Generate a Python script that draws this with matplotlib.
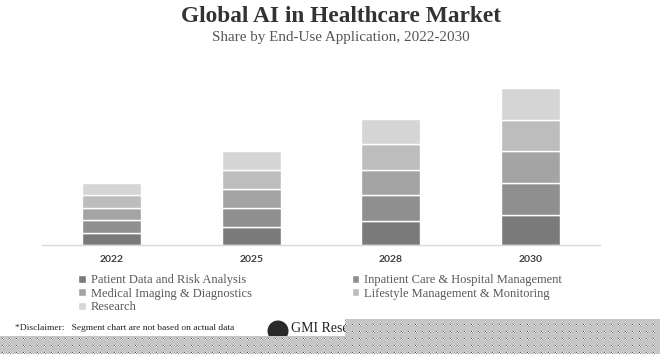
import numpy as np
import matplotlib
matplotlib.use("Agg")
import matplotlib.pyplot as plt
from matplotlib.patches import Circle

years = ["2022", "2025", "2028", "2030"]
segments = ["Patient Data and Risk Analysis", "Inpatient Care & Hospital Management",
            "Medical Imaging & Diagnostics", "Lifestyle Management & Monitoring",
            "Research"]
patient = [2.5, 3.7, 4.9, 6.1]
inpatient = [2.5, 3.7, 5.1, 6.4]
medical = [2.5, 3.8, 5.1, 6.3]
lifestyle = [2.5, 3.9, 5.1, 6.3]
research = [2.4, 3.7, 4.9, 6.3]
colors = ["#7a7a7a", "#8f8f8f", "#a4a4a4", "#bdbdbd", "#d5d5d5"]

W, H = 660, 354
fig = plt.figure(figsize=(W / 100, H / 100), dpi=100)
fig.patch.set_facecolor("white")

# main plot area, in pixels
ax = fig.add_axes([42 / W, (H - 245) / H, 558 / W, 165 / H])
x = np.arange(len(years))
bottom = np.zeros(len(years))
handles = []
for vals, c, name in zip([patient, inpatient, medical, lifestyle, research], colors, segments):
    b = ax.bar(x, vals, 0.42, bottom=bottom, color=c, edgecolor="white", linewidth=1.0, label=name)
    handles.append(b)
    bottom += np.array(vals)

ax.set_xlim(-0.5, 3.5)
ax.set_ylim(0, 33)
ax.set_xticks(x)
ax.set_xticklabels(years, fontfamily="Lato", fontweight="bold", fontsize=7.5, color="#404040")
ax.tick_params(axis="x", length=0, pad=7)
ax.set_yticks([])
for s in ["top", "left", "right"]:
    ax.spines[s].set_visible(False)
ax.spines["bottom"].set_color("#d9d9d9")
ax.spines["bottom"].set_linewidth(1)

fig.text(341 / W, 1 - 16 / H, "Global AI in Healthcare Market", ha="center", va="center",
         fontfamily="Liberation Serif", fontweight="bold", fontsize=16.8, color="#333333")
fig.text(341 / W, 1 - 37 / H, "Share by End-Use Application, 2022-2030", ha="center", va="center",
         fontfamily="Liberation Serif", fontsize=10.9, color="#555555")

# legend, row-major order
order = [0, 2, 4, 1, 3]
leg = fig.legend([handles[i] for i in order], [segments[i] for i in order],
                 loc="upper left", bbox_to_anchor=(72 / W, 1 - 268 / H), ncol=2,
                 frameon=False, prop={"family": "Liberation Serif", "size": 9},
                 handlelength=0.6, handleheight=0.6, handletextpad=0.4,
                 columnspacing=8.0, labelspacing=0.12, borderpad=0)
for t in leg.get_texts():
    t.set_color("#595959")

fig.text(15 / W, 1 - 328 / H, "*Disclaimer:   Segment chart are not based on actual data",
         ha="left", va="center", fontfamily="Liberation Serif", fontsize=6.8, color="#222222")

# logo
fig.patches.append(Circle((2.78, (H - 331) / 100), 0.105, transform=fig.dpi_scale_trans,
                          facecolor="#2a2a2a", edgecolor="none"))
fig.text(291 / W, 1 - 329 / H, "GMI Research", ha="left", va="center",
         fontfamily="Liberation Serif", fontsize=10, color="#222222")

# dotted masked region
yy, xx = np.mgrid[0:H, 0:W]
mask = ((yy >= 319) & (xx >= 345)) | (yy >= 336)
img = np.ones((H, W, 4))
g = np.full((H, W), 0.78)
g[(yy % 7 == 2) & (xx % 7 == 2)] = 0.3
g[(yy % 7 == 2) & (xx % 7 == 3)] = 1.0
g[(yy % 7 == 3) & (xx % 7 == 2)] = 1.0
g[(yy % 7 == 3) & (xx % 7 == 3)] = 0.55
img[..., 0] = g
img[..., 1] = g
img[..., 2] = g
img[..., 3] = mask.astype(float)
ov = fig.add_axes([0, 0, 1, 1], zorder=10)
ov.imshow(img, interpolation="nearest", aspect="auto")
ov.axis("off")

fig.savefig("out.png", dpi=100)
